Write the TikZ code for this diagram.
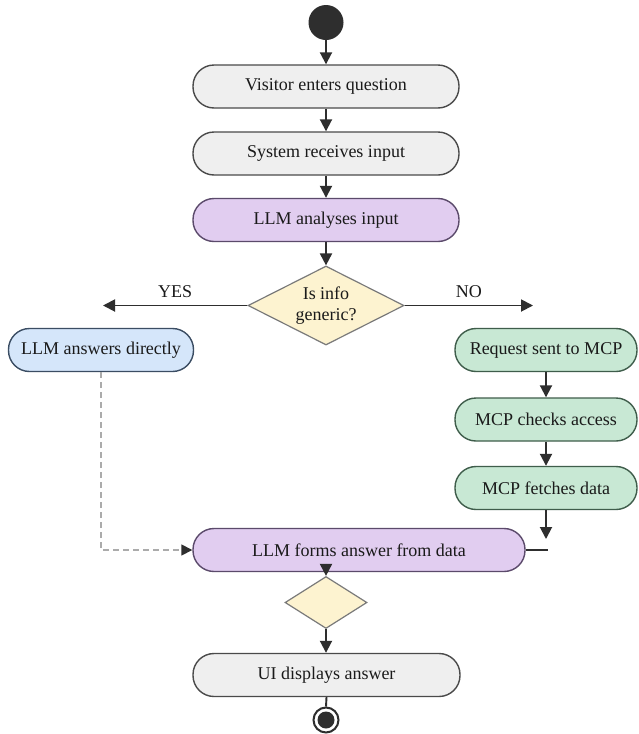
\documentclass[tikz,border=0pt]{standalone}
\usepackage{fontspec}
\setmainfont{Liberation Serif}
\usetikzlibrary{arrows.meta,shapes.geometric}
\definecolor{ln}{HTML}{2E2E2E}
\definecolor{txt}{HTML}{1A1A1A}
\definecolor{gfill}{HTML}{EFEFEF}
\definecolor{gline}{HTML}{4A4A4A}
\definecolor{pfill}{HTML}{E1CDF0}
\definecolor{pline}{HTML}{5B4A6B}
\definecolor{bfill}{HTML}{D5E6FA}
\definecolor{bline}{HTML}{3B4D63}
\definecolor{grfill}{HTML}{C8E8D4}
\definecolor{grline}{HTML}{3F5D4B}
\definecolor{dfill}{HTML}{FDF3D0}
\definecolor{dline}{HTML}{7A7A7A}
\definecolor{dashc}{HTML}{ABABAB}
\begin{document}
\begin{tikzpicture}[x=1pt,y=-1pt,
  font=\fontsize{18}{21}\selectfont,
  pill/.style={rectangle, rounded corners=21pt, minimum height=43pt, inner sep=0pt, line width=1.4pt, text=txt},
  grayp/.style={pill, fill=gfill, draw=gline},
  purp/.style={pill, fill=pfill, draw=pline},
  bluep/.style={pill, fill=bfill, draw=bline},
  greenp/.style={pill, fill=grfill, draw=grline},
  dia/.style={diamond, aspect=2, inner sep=0pt, fill=dfill, draw=dline, line width=1.2pt, align=center, text=txt},
  conn/.style={draw=ln, line width=1.9pt},
  arr/.style={conn, -{Triangle[length=12pt,width=12pt]}},
  dashar/.style={draw=dashc, line width=1.6pt, dash pattern=on 6pt off 4pt, -{Triangle[length=11pt,width=11pt,color=ln]}},
  lbl/.style={text=txt, inner sep=0pt}
]
\useasboundingbox[fill=white] (0,0) rectangle (638,734);

\node[circle, fill=ln, minimum size=35pt, inner sep=0pt] (start) at (326,22.5) {};
\node[grayp, minimum width=266pt] (visit) at (326,86.5) {Visitor enters question};
\node[grayp, minimum width=266pt] (recv) at (326,153.5) {System receives input};
\node[purp, minimum width=266pt] (anal) at (326,220) {LLM analyses input};
\node[dia, minimum width=156pt, minimum height=79pt] (dec) at (326,305.5) {Is info\\generic?};
\node[bluep, minimum width=185pt] (direct) at (101,350) {LLM answers directly};
\node[greenp, minimum width=182pt] (req) at (546,350) {Request sent to MCP};
\node[greenp, minimum width=182pt] (chk) at (546,419.5) {MCP checks access};
\node[greenp, minimum width=182pt] (fetch) at (546,488) {MCP fetches data};
\node[purp, minimum width=332pt] (form) at (359,550) {LLM forms answer from data};
\node[dia, minimum width=82pt, minimum height=52pt] (merge) at (326,602.5) {};
\node[grayp, minimum width=267pt] (ui) at (326.5,675) {UI displays answer};
\node[circle, draw=ln, line width=2pt, fill=white, minimum size=25pt, inner sep=0pt] (endo) at (326,720) {};
\node[circle, fill=ln, minimum size=17pt, inner sep=0pt] (endi) at (endo.center) {};

\coordinate (yesend) at (103,305.5);
\coordinate (noend) at (533,305.5);
\coordinate (fetchend) at (546,539);
\coordinate (formend) at (548,550);

\draw[arr] (start.south) -- (visit.north);
\draw[arr] (visit.south) -- (recv.north);
\draw[arr] (recv.south) -- (anal.north);
\draw[arr] (anal.south) -- (dec.north);
\draw[arr] (dec.west) -- (yesend) node[lbl, midway, above=7pt] {YES};
\draw[arr] (dec.east) -- (noend) node[lbl, midway, above=7pt] {NO};
\draw[arr] (req.south) -- (chk.north);
\draw[arr] (chk.south) -- (fetch.north);
\draw[arr] (fetch.south) -- (fetchend);
\draw[conn] (form.east) -- (formend);
\draw[dashar] (direct.south) |- (form.west);
\draw[arr] ([yshift=12pt]merge.north) -- (merge.north);
\draw[arr] (merge.south) -- (merge.south |- ui.north);
\draw[conn] (ui.south) -- (endo.north);
\end{tikzpicture}
\end{document}
